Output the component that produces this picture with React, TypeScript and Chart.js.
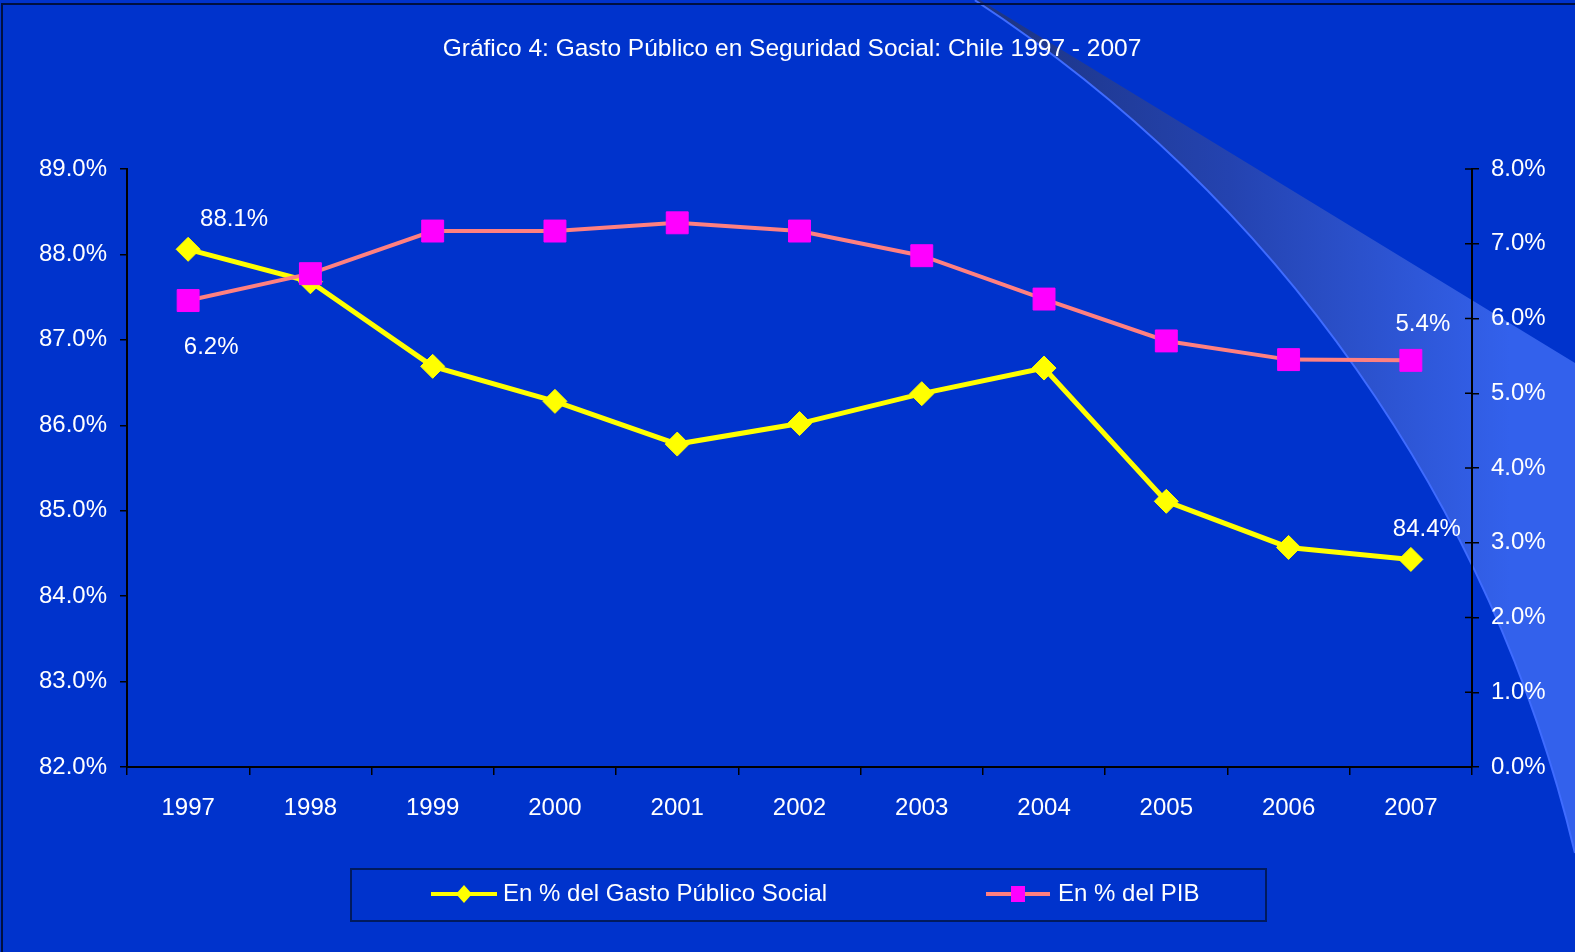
import React, { useEffect, useRef } from 'react';
import { Chart, registerables } from 'chart.js';

Chart.register(...registerables);

// ---------- data ----------
const years = ['1997', '1998', '1999', '2000', '2001', '2002', '2003', '2004', '2005', '2006', '2007'];
const gastoSocial = [88.06, 87.68, 86.69, 86.28, 85.78, 86.02, 86.37, 86.67, 85.11, 84.57, 84.43];
const pib = [6.24, 6.6, 7.17, 7.17, 7.28, 7.17, 6.84, 6.26, 5.7, 5.45, 5.44];
const seriesNames = ['En % del Gasto Público Social', 'En % del PIB'];
const titleText = 'Gráfico 4: Gasto Público en Seguridad Social: Chile 1997 - 2007';
const leftRange = [82, 89];
const rightRange = [0, 8];
const labelSeries = [0, 1, 1, 0];
const labelIndex = [0, 0, 10, 10];
const labelTexts = ['88.1%', '6.2%', '5.4%', '84.4%'];

// ---------- styling / layout ----------
const FONT = "'Liberation Sans', Arial, Helvetica, sans-serif";
const BG = '#0033CC';
const labelOffsets = [
  [46, -30],
  [23, 47],
  [12, -36],
  [16, -30],
];

const backgroundPlugin = {
  id: 'bgSwoosh',
  beforeDraw(chart: any) {
    const ctx = chart.ctx as CanvasRenderingContext2D;
    const W = chart.width;
    const H = chart.height;
    ctx.save();
    ctx.fillStyle = BG;
    ctx.fillRect(0, 0, W, H);

    // decorative swoosh (circle arc + straight edge)
    const cx = 200, cy = 1183, r = 1414;
    const a0 = Math.atan2(0 - cy, 975 - cx);
    const a1 = Math.atan2(853 - cy, 1575 - cx);
    ctx.beginPath();
    ctx.moveTo(980, 0);
    ctx.lineTo(1575, 363);
    ctx.lineTo(1575, 853);
    ctx.arc(cx, cy, r, a1, a0, true);
    ctx.closePath();
    const g = ctx.createLinearGradient(1000, 0, 1510, 0);
    g.addColorStop(0, '#1d3585');
    g.addColorStop(0.45, '#2443b0');
    g.addColorStop(1, '#3361EC');
    ctx.fillStyle = g;
    ctx.fill();

    ctx.beginPath();
    ctx.arc(cx, cy, r, a0, a1, false);
    ctx.strokeStyle = '#3f6cff';
    ctx.lineWidth = 2;
    ctx.stroke();

    // outer frame
    ctx.strokeStyle = '#001040';
    ctx.lineWidth = 2;
    ctx.strokeRect(2, 4, W + 4, H + 4);
    ctx.restore();
  },
};

const overlayPlugin = {
  id: 'overlay',
  afterDraw(chart: any) {
    const ctx = chart.ctx as CanvasRenderingContext2D;
    ctx.save();

    // inner half of the right axis tick marks (they cross the axis line)
    const y1 = chart.scales.y1;
    ctx.strokeStyle = '#000000';
    ctx.lineWidth = 1.5;
    y1.ticks.forEach((t: any) => {
      const py = y1.getPixelForValue(t.value);
      ctx.beginPath();
      ctx.moveTo(y1.left - 7, py);
      ctx.lineTo(y1.left, py);
      ctx.stroke();
    });

    // title
    ctx.fillStyle = '#ffffff';
    ctx.font = `24.5px ${FONT}`;
    ctx.textAlign = 'center';
    ctx.textBaseline = 'middle';
    ctx.fillText(titleText, 792, 49);

    // point labels
    ctx.font = `24px ${FONT}`;
    labelTexts.forEach((t, i) => {
      const meta = chart.getDatasetMeta(labelSeries[i]);
      const el = meta.data[labelIndex[i]];
      if (!el) return;
      ctx.fillText(t, el.x + labelOffsets[i][0], el.y + labelOffsets[i][1]);
    });

    // legend box
    ctx.strokeStyle = '#001a5e';
    ctx.lineWidth = 2;
    ctx.strokeRect(351, 869, 915, 52);
    const ly = 894;
    const items = [
      { x0: 431, x1: 497, tx: 503 },
      { x0: 986, x1: 1050, tx: 1058 },
    ];
    chart.data.datasets.forEach((ds: any, i: number) => {
      const it = items[i];
      ctx.strokeStyle = ds.borderColor;
      ctx.lineWidth = 4;
      ctx.beginPath();
      ctx.moveTo(it.x0, ly);
      ctx.lineTo(it.x1, ly);
      ctx.stroke();
      const mx = (it.x0 + it.x1) / 2;
      ctx.fillStyle = ds.pointBackgroundColor;
      ctx.beginPath();
      if (ds.pointStyle === 'rectRot') {
        ctx.moveTo(mx - 8, ly);
        ctx.lineTo(mx, ly - 9);
        ctx.lineTo(mx + 8, ly);
        ctx.lineTo(mx, ly + 9);
        ctx.closePath();
        ctx.fill();
      } else {
        ctx.fillRect(mx - 7, ly - 8, 14, 16);
      }
      ctx.fillStyle = '#ffffff';
      ctx.font = `24px ${FONT}`;
      ctx.textAlign = 'left';
      ctx.textBaseline = 'middle';
      ctx.fillText(seriesNames[i], it.tx, ly);
    });
    ctx.restore();
  },
};

export default function App() {
  const ref = useRef<HTMLCanvasElement | null>(null);

  useEffect(() => {
    if (!ref.current) return;
    const tickFont = { family: FONT, size: 24 };
    const chart = new Chart(ref.current, {
      type: 'line',
      data: {
        labels: years,
        datasets: [
          {
            label: seriesNames[0],
            data: gastoSocial,
            yAxisID: 'y',
            borderColor: '#FFFF00',
            backgroundColor: '#FFFF00',
            borderWidth: 5,
            pointStyle: 'rectRot',
            pointRadius: 12,
            pointBorderWidth: 1,
            pointBackgroundColor: '#FFFF00',
            pointBorderColor: '#FFFF00',
            tension: 0,
            fill: false,
            order: 1,
          },
          {
            label: seriesNames[1],
            data: pib,
            yAxisID: 'y1',
            borderColor: '#FF8080',
            backgroundColor: '#FF00FF',
            borderWidth: 4,
            pointStyle: 'rect',
            pointRadius: 15.5,
            pointBorderWidth: 1,
            pointBackgroundColor: '#FF00FF',
            pointBorderColor: '#FF00FF',
            tension: 0,
            fill: false,
            order: 0,
          },
        ],
      },
      options: {
        responsive: false,
        animation: false,
        events: [],
        layout: { padding: { top: 169, left: 0, right: 0, bottom: 0 } },
        plugins: {
          legend: { display: false },
          tooltip: { enabled: false },
          title: { display: false },
        },
        scales: {
          x: {
            type: 'category',
            offset: true,
            grid: { offset: true, drawOnChartArea: false, drawTicks: true, tickLength: 8, color: '#000000', lineWidth: 1.5 },
            border: { color: '#000000', width: 2 },
            ticks: { color: '#ffffff', font: tickFont, padding: 19, maxRotation: 0, autoSkip: false },
            afterFit: (s: any) => { s.height = 185; },
          },
          y: {
            type: 'linear',
            position: 'left',
            min: leftRange[0],
            max: leftRange[1],
            ticks: {
              stepSize: 1,
              color: '#ffffff',
              font: tickFont,
              padding: 13,
              callback: (v: any) => Number(v).toFixed(1) + '%',
            },
            grid: { drawOnChartArea: false, drawTicks: true, tickLength: 7, color: '#000000', lineWidth: 1.5 },
            border: { color: '#000000', width: 2 },
            afterFit: (s: any) => { s.width = 127; },
          },
          y1: {
            type: 'linear',
            position: 'right',
            min: rightRange[0],
            max: rightRange[1],
            ticks: {
              stepSize: 1,
              color: '#ffffff',
              font: tickFont,
              padding: 12,
              callback: (v: any) => Number(v).toFixed(1) + '%',
            },
            grid: { drawOnChartArea: false, drawTicks: true, tickLength: 7, color: '#000000', lineWidth: 1.5 },
            border: { color: '#000000', width: 2 },
            afterFit: (s: any) => { s.width = 103; },
          },
        },
      },
      plugins: [backgroundPlugin, overlayPlugin],
    });
    return () => chart.destroy();
  }, []);

  return (
    <div style={{ position: 'fixed', left: 0, top: 0, width: 1575, height: 952, background: BG }}>
      <canvas ref={ref} width={1575} height={952} style={{ display: 'block', width: 1575, height: 952 }} />
    </div>
  );
}
